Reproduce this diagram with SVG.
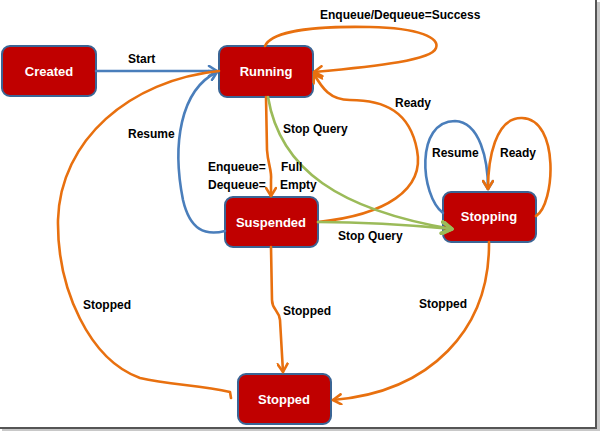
<svg xmlns="http://www.w3.org/2000/svg" width="600" height="431" viewBox="0 0 600 431">
<defs>
<style>
.node rect{fill:#C00000;stroke:#3A6595;stroke-width:2}
.node text{fill:#fff;font-family:"Liberation Sans",Arial,sans-serif;font-weight:bold;font-size:13px;text-anchor:middle}
.lbl{fill:#000;font-family:"Liberation Sans",Arial,sans-serif;font-weight:bold;font-size:12px}
.c{fill:none;stroke-width:2.6;stroke-linecap:round;stroke-linejoin:round}
.o{stroke:#E8700F}
.b{stroke:#4A7EBB}
.g{stroke:#9BBB59}
</style>
<marker id="ao" viewBox="0 0 12 12" refX="10" refY="6" markerWidth="12" markerHeight="12" markerUnits="userSpaceOnUse" orient="auto"><path d="M2 1 L10 6 L2 11" fill="none" stroke="#E8700F" stroke-width="2.6" stroke-linecap="round" stroke-linejoin="round"/></marker>
<marker id="ab" viewBox="0 0 12 12" refX="10" refY="6" markerWidth="12" markerHeight="12" markerUnits="userSpaceOnUse" orient="auto"><path d="M2 1 L10 6 L2 11" fill="none" stroke="#4A7EBB" stroke-width="2.6" stroke-linecap="round" stroke-linejoin="round"/></marker>
<marker id="ag" viewBox="0 0 14 14" refX="12" refY="7" markerWidth="14" markerHeight="14" markerUnits="userSpaceOnUse" orient="auto"><path d="M2 1 L12 7 L2 13" fill="none" stroke="#9BBB59" stroke-width="3.5" stroke-linecap="round" stroke-linejoin="round"/></marker>
</defs>
<rect x="0" y="0" width="600" height="431" fill="#fff"/>
<rect x="597" y="2" width="3" height="429" fill="#c8c8c8"/>
<rect x="2" y="428" width="598" height="3" fill="#c8c8c8"/>
<rect x="595" y="0" width="2" height="429" fill="#555"/>
<rect x="0" y="427" width="597" height="2" fill="#555"/>

<g id="created" class="node"><rect x="2" y="46" width="94" height="50" rx="8"/><text x="49" y="76">Created</text></g>
<g id="running" class="node"><rect x="219" y="46" width="94" height="51" rx="8"/><text x="266" y="76">Running</text></g>
<g id="suspended" class="node"><rect x="225" y="197" width="93" height="50" rx="8"/><text x="271" y="227">Suspended</text></g>
<g id="stopping" class="node"><rect x="443" y="192" width="93" height="50" rx="8"/><text x="489" y="221">Stopping</text></g>
<g id="stopped" class="node"><rect x="238" y="374" width="93" height="50" rx="8"/><text x="284" y="404">Stopped</text></g>

<g id="connectors">
<path class="c b" d="M96 71 L217 71" marker-end="url(#ab)"/>
<path class="c b" d="M225 231 C205 236 190 230 183 200 C172 145 180 90 217 72" marker-end="url(#ab)"/>
<path class="c o" d="M265 46 C272 30 320 26 370 27 C420 28 440 38 436 48 C432 60 380 66 314 72" marker-end="url(#ao)"/>
<path class="c o" d="M318 222 C385 215 425 190 417 150 C410 112 385 100 350 100 C330 100 322 88 314 74" marker-end="url(#ao)"/>
<path class="c o" d="M266 97 L267 150 C268 165 272 170 271 180 L271 196" marker-end="url(#ao)"/>
<path class="c g" d="M268 97 C280 170 340 210 452 229" marker-end="url(#ag)"/>
<path class="c g" d="M318 222 C360 222 400 224 452 229" marker-end="url(#ag)"/>
<path class="c o" d="M219 71 C130 80 60 140 58 220 C57 290 90 360 140 378 C170 385 200 385 230 392 L231 398"/>
<path class="c o" d="M271 247 L272 300 C272 310 279 310 280 320 L283 372" marker-end="url(#ao)"/>
<path class="c o" d="M489 242 C490 330 430 392 333 400" marker-end="url(#ao)"/>
<path class="c b" d="M443 213 C420 195 415 121 455 121 C480 122 488 160 488 189" marker-end="url(#ab)"/>
<path class="c o" d="M536 216 C555 205 560 119 522 118 C495 117 488 160 488 189" marker-end="url(#ao)"/>
</g>

<g id="labels">
<text class="lbl" x="128" y="63">Start</text>
<text class="lbl" x="320" y="19">Enqueue/Dequeue=Success</text>
<text class="lbl" x="395" y="107">Ready</text>
<text class="lbl" x="128" y="138">Resume</text>
<text class="lbl" x="283" y="133">Stop Query</text>
<text class="lbl" x="208" y="171">Enqueue=</text>
<text class="lbl" x="281" y="171">Full</text>
<text class="lbl" x="208" y="189">Dequeue=</text>
<text class="lbl" x="280" y="189">Empty</text>
<text class="lbl" x="338" y="240">Stop Query</text>
<text class="lbl" x="432" y="157">Resume</text>
<text class="lbl" x="500" y="157">Ready</text>
<text class="lbl" x="83" y="309">Stopped</text>
<text class="lbl" x="283" y="315">Stopped</text>
<text class="lbl" x="419" y="308">Stopped</text>
</g>
</svg>
